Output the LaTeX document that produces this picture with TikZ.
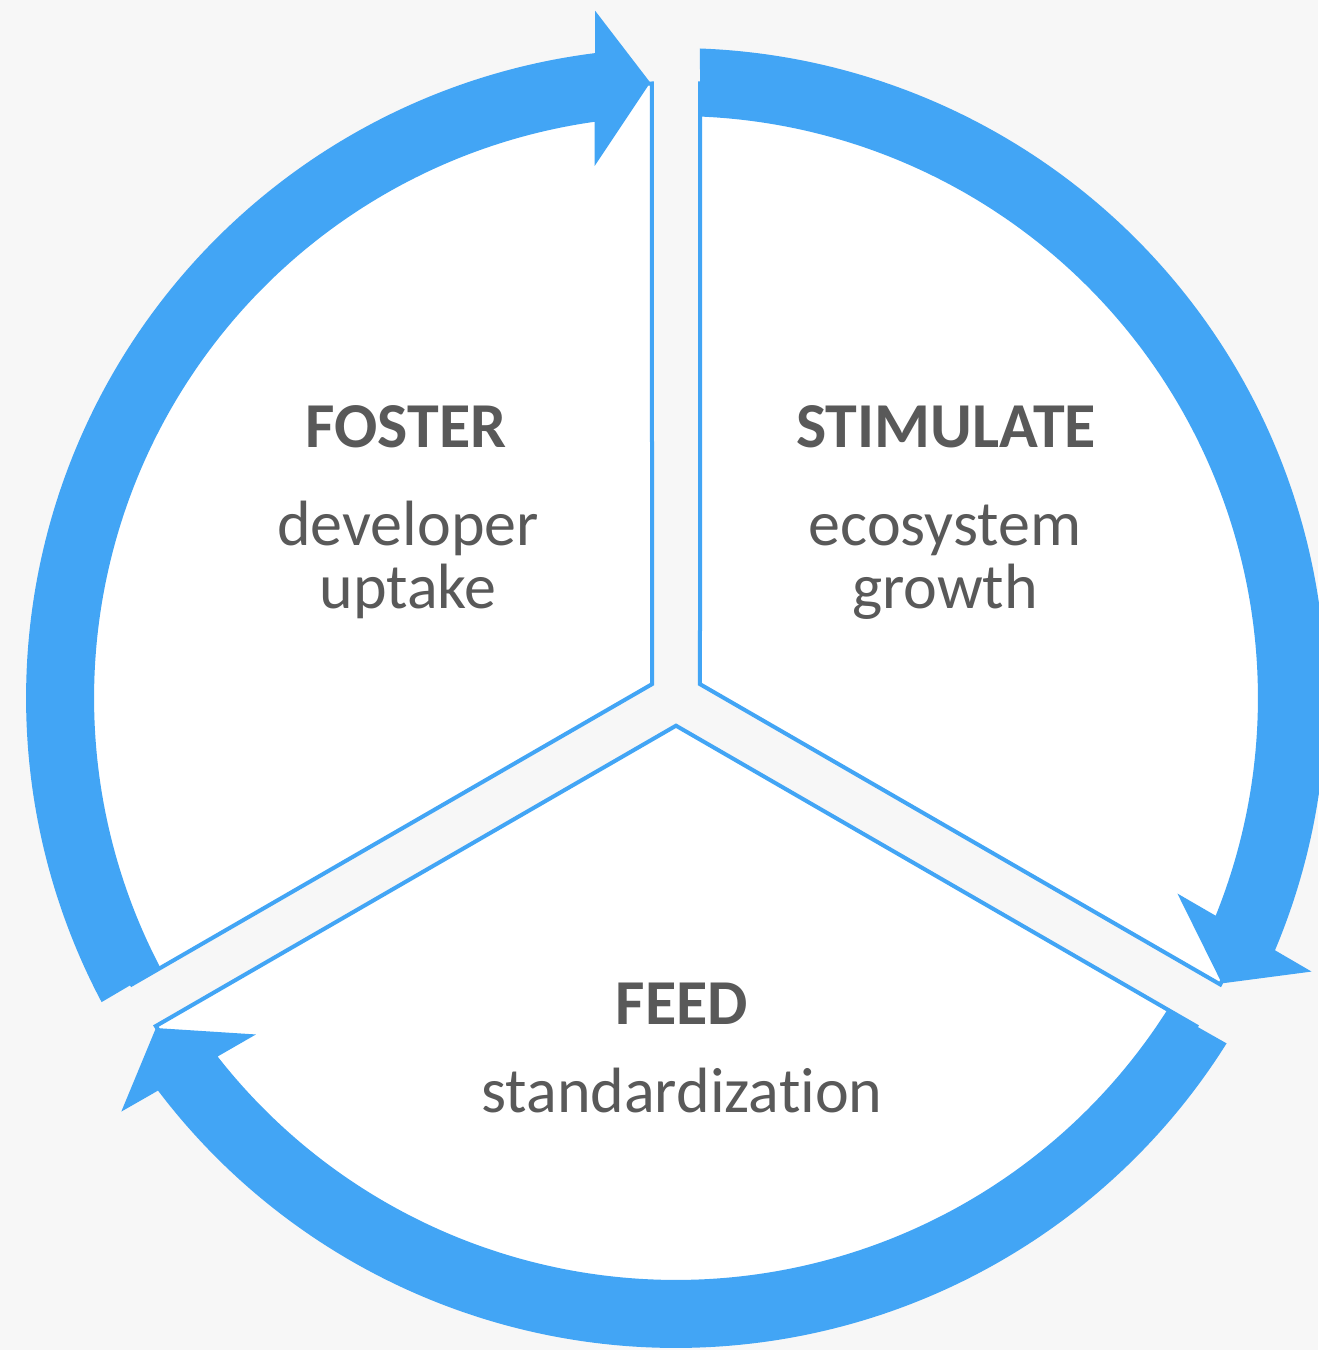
\documentclass[tikz,border=0pt]{standalone}
\usepackage{fontspec}
\setmainfont{Carlito}[Ligatures=NoCommon]
\definecolor{cycleblue}{RGB}{66,165,245}
\definecolor{canvasgrey}{RGB}{247,247,247}
\definecolor{labelgrey}{RGB}{89,89,89}

\begin{document}
\begin{tikzpicture}[x=0.5pt,y=0.5pt,
    sector/.style={fill=white,draw=cycleblue,line width=2pt,line join=miter},
    ringarrow/.style={fill=cycleblue},
    title/.style={text=labelgrey,font=\fontsize{32}{32}\selectfont\bfseries,inner sep=0pt,anchor=base},
    caption/.style={text=labelgrey,font=\fontsize{32}{31.5}\selectfont,inner sep=0pt,align=center,anchor=base}]

	% Background
	\fill[canvasgrey] (0,0) rectangle (1318,1350);
	\useasboundingbox (0,0) rectangle (1318,1350);
	\coordinate (hub) at (676,652);

	% Sectors
	\begin{scope}[shift={(hub)}]
		%Right sector
		\draw[sector] (30:27.7) -- (87.76:615) arc[start angle=87.76, end angle=-27.76, radius=615] -- cycle;
		%Bottom sector
		\draw[sector] (-90:27.7) -- (-32.24:615) arc[start angle=-32.24, end angle=-147.76, radius=615] -- cycle;
		%Left sector
		\draw[sector] (150:27.7) -- (207.76:615) arc[start angle=207.76, end angle=92.24, radius=615] -- cycle;
	\end{scope}

	% Circular arrows
	%Arrow into the top gap
	\begin{scope}[shift={(hub)},rotate=92.4]
		\fill[ringarrow] (4.76:650) arc[start angle=4.76, end angle=115.5, radius=650] -- (115.2:582) arc[start angle=115.2, end angle=5.63, radius=582] -- (535,59) -- (616,0) -- (690,52) -- cycle;
	\end{scope}
	%Arrow into the right gap
	\begin{scope}[shift={(hub)},rotate=-27.6]
		\fill[ringarrow] (4.76:650) arc[start angle=4.76, end angle=115.5, radius=650] -- (115.2:582) arc[start angle=115.2, end angle=5.63, radius=582] -- (535,59) -- (616,0) -- (690,52) -- cycle;
	\end{scope}
	%Arrow into the left gap
	\begin{scope}[shift={(hub)},rotate=-147.6]
		\fill[ringarrow] (4.76:650) arc[start angle=4.76, end angle=115.5, radius=650] -- (115.2:582) arc[start angle=115.2, end angle=5.63, radius=582] -- (535,59) -- (616,0) -- (690,52) -- cycle;
	\end{scope}

	% Text Node
	\node[title] (foster) at (406,902) {FOSTER};
	% Text Node
	\node[caption] (fosterNote) at (408,741) {developer\\uptake};
	% Text Node
	\node[title] (stimulate) at (946,902) {STIMULATE};
	% Text Node
	\node[caption] (stimulateNote) at (945,741) {ecosystem\\growth};
	% Text Node
	\node[title] (feed) at (682,325) {FEED};
	% Text Node
	\node[caption] (feedNote) at (682,237) {standardization};
\end{tikzpicture}
\end{document}
